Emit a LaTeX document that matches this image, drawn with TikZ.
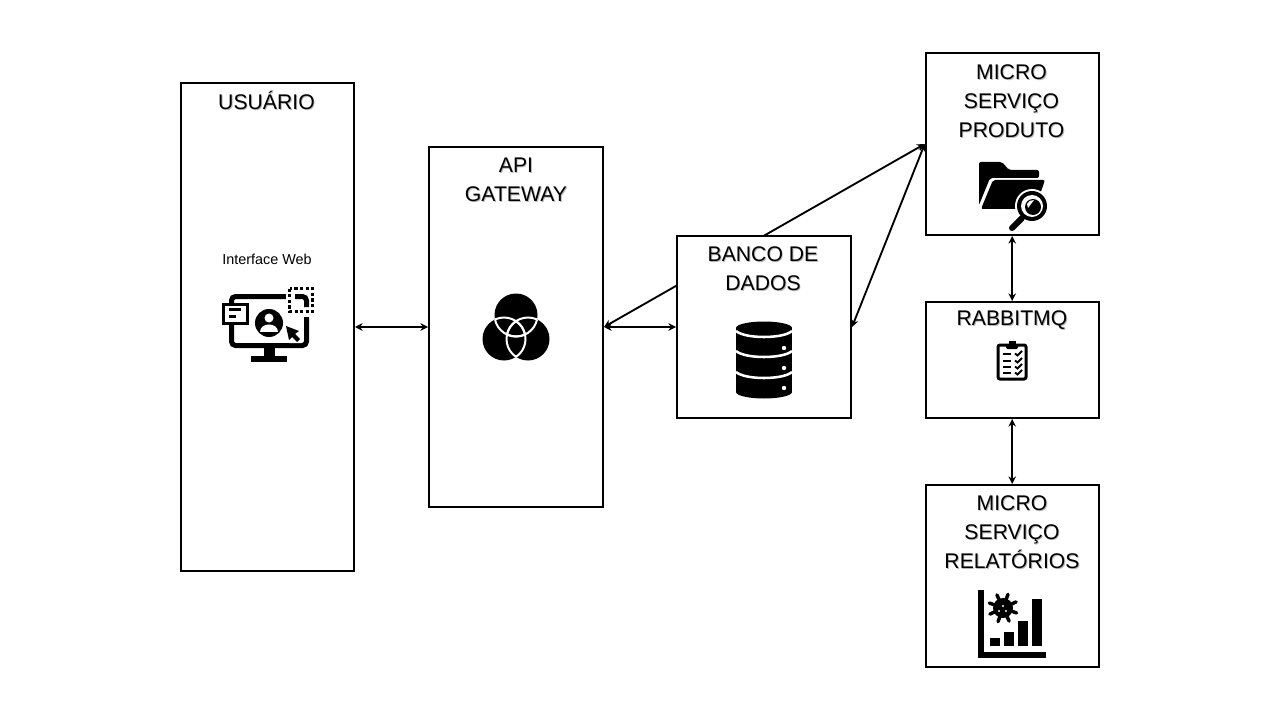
\documentclass[tikz,border=0pt]{standalone}
\usepackage{fontspec}
\setmainfont{Liberation Sans}
\usepackage{tikz}
\usetikzlibrary{arrows.meta,backgrounds}
\newcommand{\shd}[1]{\leavevmode\rlap{\hspace*{.7pt}\raisebox{-.7pt}{\textcolor{black!28}{#1}}}#1}

\begin{document}
\begin{tikzpicture}[
  x=0.75pt,y=-0.75pt,
  box/.style={draw=black,line width=1.5pt,fill=white,minimum width=129.75pt,inner sep=0pt},
  ttl/.style={font=\fontsize{15.9}{21.75}\selectfont,align=center,inner sep=0pt},
  sml/.style={font=\fontsize{10.8}{12}\selectfont,align=center,inner sep=0pt},
  darr/.style={{Stealth[length=2mm,width=2mm]}-{Stealth[length=2mm,width=2mm]},line width=1.4pt},
]
\useasboundingbox (0,0) rectangle (1280,720);

%% ── Boxes ────────────────────────────────────────────────────────────────
\node[box,minimum height=366pt]   (usuario)   at (267.5,327) {};
\node[box,minimum height=270.2pt,minimum width=130.5pt] (gateway) at (516,327) {};
\node[box,minimum height=136.5pt,minimum width=130.5pt]  (banco)   at (764,327) {};
\node[box,minimum height=136.5pt] (produto)   at (1012.2,144) {};
\node[box,minimum height=87pt]    (rabbit)    at (1012.2,360) {};
\node[box,minimum height=136.5pt] (relatorio) at (1012.2,576) {};

%% ── Titles ───────────────────────────────────────────────────────────────
\node[ttl] (usuariottl) at (266.5,100.5) {\shd{USUÁRIO}};
\node[sml] (webttl)     at (267,259.5) {Interface Web};
\node[ttl] (gatewayttl) at (516,180.5) {\shd{API}\\\shd{GATEWAY}};
\node[ttl] (bancottl)   at (763,269.5) {\shd{BANCO DE}\\\shd{DADOS}};
\node[ttl] (produtottl) at (1011.5,102) {\shd{MICRO}\\\shd{SERVIÇO}\\\shd{PRODUTO}};
\node[ttl] (rabbitttl)  at (1012,321) {\shd{RABBITMQ}};
\node[ttl] (relatottl)  at (1012,533) {\shd{MICRO}\\\shd{SERVIÇO}\\\shd{RELATÓRIOS}};

%% ── Connections ──────────────────────────────────────────────────────────
\draw[darr] (usuario.east) -- (gateway.west);
\draw[darr] (gateway.east) -- (banco.west);
\draw[darr] (banco.east) -- (produto.west);
\draw[darr] (produto.south) -- (rabbit.north);
\draw[darr] (rabbit.south) -- (relatorio.north);
\begin{pgfonlayer}{background}
\draw[darr] (gateway.east) -- (produto.west);
\end{pgfonlayer}

%% ── Icon: web interface ──────────────────────────────────────────────────
\draw[line width=3.75pt,rounded corners=3pt] (231.5,296.5) rectangle (306.5,345.5);
\fill[white] (286,285) rectangle (316,318);
\draw[line width=2.4pt,dash pattern=on 2.4pt off 1.8pt] (289.5,288.5) rectangle (312.5,311.5);
\draw[line width=3.75pt,rounded corners=3pt] (295,296.5) -- (306.5,296.5) -- (306.5,307);
\draw[line width=3.75pt] (306.5,317) -- (306.5,330);
\fill (264,347) rectangle (275,357);
\fill (251,356) rectangle (287,361.5);
\draw[fill=white,line width=2.25pt] (223.5,304.5) rectangle (247.5,323.5);
\fill (229,308) rectangle (241,311);
\fill (229,315) rectangle (236,318);
\fill (269,323) circle[radius=14];
\fill[white] (269,318) circle[radius=4.5];
\fill[white] (260,332) .. controls (260,322) and (278,322) .. (278,332) -- cycle;
\fill[white] (284,324) -- (301,331) -- (301,343) -- (289,343) -- cycle;
\fill (286,326) -- (299,331) -- (295,334) -- (300,339) -- (297,342) -- (292,337) -- (289,340) -- cycle;

%% ── Icon: venn ───────────────────────────────────────────────────────────
\fill (516,315) circle[radius=21.5];
\fill (504,339) circle[radius=21.5];
\fill (528,339) circle[radius=21.5];
\foreach \cx/\cy/\dx/\dy/\ex/\ey in {516/315/504/339/528/339,504/339/516/315/528/339,528/339/516/315/504/339}{
  \begin{scope}
    \clip (\dx,\dy) circle[radius=21.5];
    \draw[white,line width=1.5pt] (\cx,\cy) circle[radius=21.5];
  \end{scope}
  \begin{scope}
    \clip (\ex,\ey) circle[radius=21.5];
    \draw[white,line width=1.5pt] (\cx,\cy) circle[radius=21.5];
  \end{scope}
}

%% ── Icon: database ───────────────────────────────────────────────────────
\fill (736,328) rectangle (792,392);
\fill (764,328) ellipse[x radius=28,y radius=6.5];
\fill (764,392) ellipse[x radius=28,y radius=6.5];
\foreach \yy in {331,351,372}{
  \draw[white,line width=1.9pt] (736,\yy) .. controls (745,\yy+8) and (783,\yy+8) .. (792,\yy);
}
\foreach \yy in {348,368,388}{
  \fill[white] (784,\yy) circle[radius=2.2];
}

%% ── Icon: folder + magnifier ─────────────────────────────────────────────
\fill[rounded corners=1.5pt] (979,162) -- (1002,162) -- (1009,170) -- (1039,170) -- (1039,178) -- (990,178) -- (979,205) -- cycle;
\fill[rounded corners=1.5pt] (993,180) -- (1045,180) -- (1035,209) -- (981,209) -- cycle;
\fill[white] (1032,206) circle[radius=17];
\draw[line width=4.5pt,line cap=round] (1022,218) -- (1012,228);
\fill (1032,206) circle[radius=15];
\fill[white] (1032,206) circle[radius=11];
\fill (1033,207) circle[radius=8];
\fill[white] (1027,204) .. controls (1028,201) and (1031,200) .. (1034,200) -- (1028,208) -- cycle;

%% ── Icon: clipboard ──────────────────────────────────────────────────────
\draw[fill=white,line width=2.25pt,rounded corners=1.5pt] (998,345) rectangle (1026,379);
\fill[rounded corners=1pt] (1006,344) rectangle (1018,349);
\fill (1008.5,340.5) rectangle (1015.5,345);
\foreach \yy in {354,361,367,373}{
  \fill (1003,\yy-1) rectangle (1011,\yy+1);
  \draw[line width=1.4pt] (1015,\yy-.5) -- (1017.5,\yy+1.5) -- (1022,\yy-3);
}

%% ── Icon: chart + virus ──────────────────────────────────────────────────
\fill (978,590) rectangle (984,658);
\fill (978,652) rectangle (1046,658);
\fill (990,638) rectangle (1000,646);
\fill (1004,632) rectangle (1014,646);
\fill (1018,621) rectangle (1028,646);
\fill (1032,599) rectangle (1042,646);
\fill (1003,608) circle[radius=10];
\foreach \a in {0,45,...,315}{
  \draw[line width=2.6pt,line cap=round] (1003,608) -- ++(\a+20:14.5);
}
\fill[white] (999,611) circle[radius=1.2];
\fill[white] (1006,611) circle[radius=1.2];
\fill[white] (1003,606) circle[radius=1.2];

\end{tikzpicture}
\end{document}
